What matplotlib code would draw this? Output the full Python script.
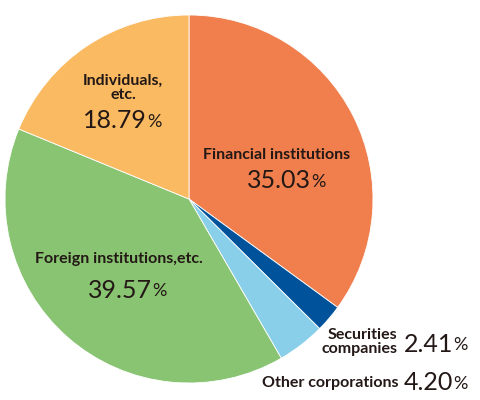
import matplotlib.pyplot as plt

labels = ["Financial institutions", "Securities\ncompanies", "Other corporations",
          "Foreign institutions,etc.", "Individuals,\netc."]
shares = [35.03, 2.41, 4.20, 39.57, 18.79]
colors = ["#F07F4D", "#00529B", "#89CFEA", "#88C472", "#F9BA62"]

# label anchor (pixel coords, y from top), alignment of name, placement of value
label_pos = [(277, 155, "center"), (397, 342, "right"), (398, 383, "right"),
             (119, 259, "center"), (123, 88, "center")]
value_pos = [(247, 181), (404, 344), (404, 383), (88, 290), (83, 121)]

fig = plt.figure(figsize=(4.8, 4.0), dpi=100)
ax = fig.add_axes([0, 0, 1, 1])

ax.pie(shares, colors=colors, startangle=90, counterclock=False,
       center=(189, 201), radius=184, frame=True,
       wedgeprops=dict(linewidth=0.6, edgecolor="white"))
ax.set_xlim(0, 480)
ax.set_ylim(0, 400)
ax.set_aspect("equal")
ax.axis("off")

for lab, v, (lx, ly, ha), (vx, vy) in zip(labels, shares, label_pos, value_pos):
    ax.text(lx, 400 - ly, lab, ha=ha, va="center", family="Lato",
            fontweight="bold", fontsize=11.5, color="#231815", linespacing=1.0)
    t = ax.text(vx, 400 - vy, f"{v:.2f}", ha="left", va="center", family="Lato",
                fontsize=18, color="#231815")
    ax.annotate("%", xy=(1, 0), xycoords=t, xytext=(0, 1.5), textcoords="offset points",
                ha="left", va="bottom", family="Lato", fontsize=13, color="#231815")

fig.savefig("out.png", dpi=100)
